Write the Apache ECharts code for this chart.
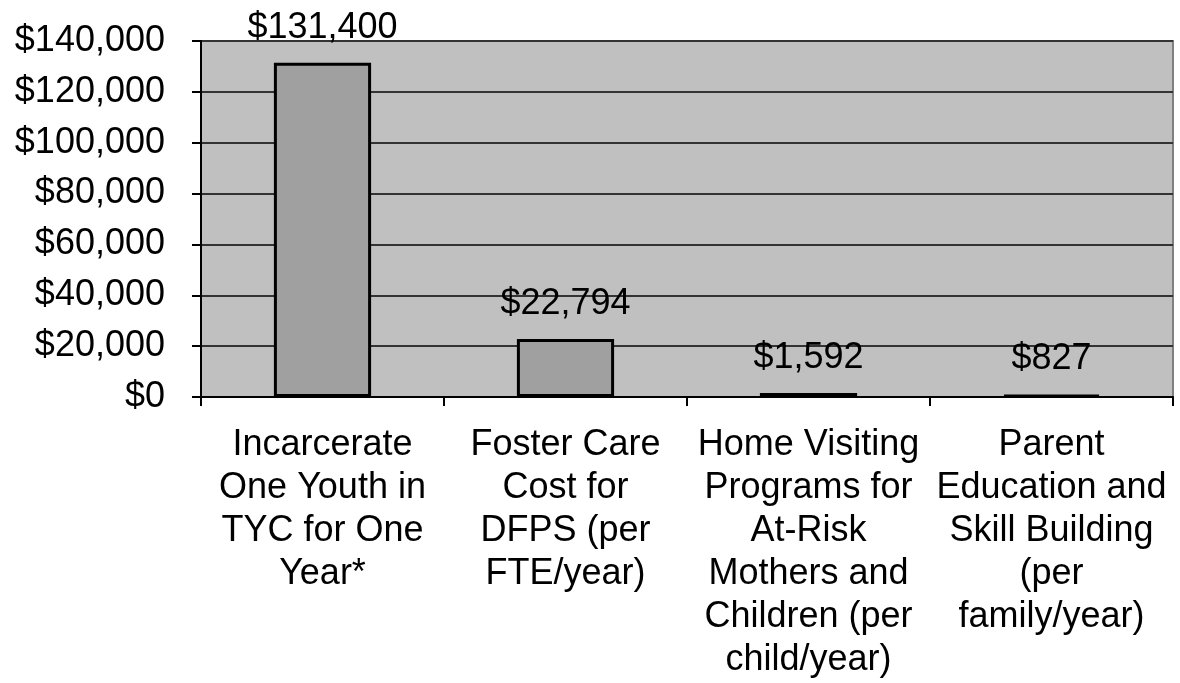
<!DOCTYPE html>
<html>
<head>
<meta charset="utf-8">
<script src="https://cdn.jsdelivr.net/npm/echarts@6/dist/echarts.min.js"></script>
<style>
    html, body { margin: 0; padding: 0; background: #fff; }
    #main { width: 1180px; height: 683px; }
</style>
</head>
<body>
<div id="main"></div>
<script>
    var categories = [
        'Incarcerate\nOne Youth in\nTYC for One\nYear*',
        'Foster Care\nCost for\nDFPS (per\nFTE/year)',
        'Home Visiting\nPrograms for\nAt-Risk\nMothers and\nChildren (per\nchild/year)',
        'Parent\nEducation and\nSkill Building\n(per\nfamily/year)'
    ];
    var costs = [131400, 22794, 1592, 827];
    var yTicks = [0, 20000, 40000, 60000, 80000, 100000, 120000, 140000];

    function money(v) {
        return '$' + v.toString().replace(/\B(?=(\d{3})+(?!\d))/g, ',');
    }

    var chartDom = document.getElementById('main');
    var myChart = echarts.init(chartDom);
    var font = '"Liberation Sans", Arial, sans-serif';

    var option = {
        animation: false,
        grid: {
            left: 201,
            right: 7,
            top: 41,
            bottom: 286,
            show: true,
            backgroundColor: '#c0c0c0',
            borderColor: '#808080',
            borderWidth: 2
        },
        xAxis: {
            type: 'category',
            data: categories,
            axisLine: { lineStyle: { color: '#000', width: 2 } },
            axisTick: { show: true, length: 9, lineStyle: { color: '#000', width: 2 } },
            axisLabel: {
                color: '#000',
                fontFamily: font,
                fontSize: 36,
                lineHeight: 43,
                margin: 27,
                interval: 0
            }
        },
        yAxis: {
            type: 'value',
            min: yTicks[0],
            max: yTicks[yTicks.length - 1],
            interval: 20000,
            axisLine: { show: true, lineStyle: { color: '#000', width: 2 } },
            axisTick: { show: true, length: 9, lineStyle: { color: '#000', width: 2 } },
            splitLine: { show: true, lineStyle: { color: '#333', width: 2 } },
            axisLabel: {
                color: '#000',
                fontFamily: font,
                fontSize: 36,
                margin: 36,
                formatter: function (v) { return money(v); }
            }
        },
        series: [
            {
                type: 'bar',
                data: costs,
                barWidth: '40%',
                itemStyle: {
                    color: '#a0a0a0',
                    borderColor: '#000',
                    borderWidth: 3
                },
                label: {
                    show: true,
                    position: 'top',
                    distance: 17,
                    color: '#000',
                    fontFamily: font,
                    fontSize: 36,
                    formatter: function (p) { return money(p.value); }
                }
            }
        ]
    };

    option && myChart.setOption(option);
</script>
</body>
</html>
